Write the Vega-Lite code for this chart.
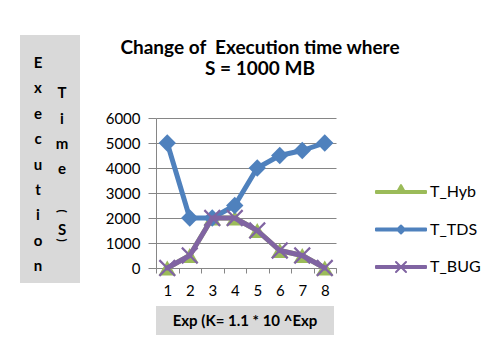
{
  "$schema": "https://vega.github.io/schema/vega-lite/v6.json",
  "padding": {"left": 20, "top": 35, "right": 0, "bottom": 0},
  "background": "white",
  "config": {"font": "Lato", "view": {"stroke": null}},
  "columns": 2,
  "align": "none",
  "bounds": "full",
  "spacing": 25,
  "concat": [
    {
      "width": 60,
      "height": 248,
      "view": {"fill": "#d9d9d9", "stroke": null},
      "data": {"values": [
        {"ch": "E", "col": 1, "row": 0},
        {"ch": "x", "col": 1, "row": 1},
        {"ch": "e", "col": 1, "row": 2},
        {"ch": "c", "col": 1, "row": 3},
        {"ch": "u", "col": 1, "row": 4},
        {"ch": "t", "col": 1, "row": 5},
        {"ch": "i", "col": 1, "row": 6},
        {"ch": "o", "col": 1, "row": 7},
        {"ch": "n", "col": 1, "row": 8},
        {"ch": "T", "col": 2, "row": 1.18},
        {"ch": "i", "col": 2, "row": 2.2},
        {"ch": "m", "col": 2, "row": 3.19},
        {"ch": "e", "col": 2, "row": 4.17},
        {"ch": "(", "col": 2, "row": 5.83},
        {"ch": "S", "col": 2, "row": 6.57},
        {"ch": ")", "col": 2, "row": 6.97}
      ]},
      "encoding": {
        "x": {"field": "col", "type": "quantitative", "scale": {"domain": [0.25, 2.75], "nice": false, "zero": false}, "axis": null},
        "y": {"field": "row", "type": "quantitative", "scale": {"domain": [-1.1, 8.66], "nice": false, "zero": false, "reverse": true}, "axis": null},
        "text": {"field": "ch", "type": "nominal"}
      },
      "layer": [
        {
          "transform": [{"filter": "datum.ch != '(' && datum.ch != ')'"}],
          "mark": {"type": "text", "font": "Lato", "fontWeight": "bold", "fontSize": 15, "align": "center", "baseline": "middle", "color": "#000000"}
        },
        {
          "transform": [{"filter": "datum.ch == '(' || datum.ch == ')'"}],
          "mark": {"type": "text", "font": "Lato", "fontWeight": "bold", "fontSize": 12, "align": "center", "baseline": "middle", "angle": 90, "color": "#000000"}
        }
      ]
    },
    {
      "bounds": "flush",
      "spacing": 38,
      "vconcat": [
        {
          "width": 180,
          "height": 45,
          "data": {"values": [{"title": "Change of\u00a0 Execution time where\nS = 1000 MB"}]},
          "mark": {"type": "text", "font": "Lato", "fontWeight": "bold", "fontSize": 19, "lineHeight": 21, "lineBreak": "\n", "align": "center", "baseline": "middle", "dx": 14, "dy": -10, "color": "#000000"},
          "encoding": {"text": {"field": "title", "type": "nominal"}}
        },
        {
          "width": 180,
          "height": 150,
          "data": {"values": [
            {"exp": 1, "series": "T_Hyb", "time": 0},
            {"exp": 2, "series": "T_Hyb", "time": 500},
            {"exp": 3, "series": "T_Hyb", "time": 2000},
            {"exp": 4, "series": "T_Hyb", "time": 2000},
            {"exp": 5, "series": "T_Hyb", "time": 1500},
            {"exp": 6, "series": "T_Hyb", "time": 700},
            {"exp": 7, "series": "T_Hyb", "time": 500},
            {"exp": 8, "series": "T_Hyb", "time": 0},
            {"exp": 1, "series": "T_TDS", "time": 5000},
            {"exp": 2, "series": "T_TDS", "time": 2000},
            {"exp": 3, "series": "T_TDS", "time": 2000},
            {"exp": 4, "series": "T_TDS", "time": 2500},
            {"exp": 5, "series": "T_TDS", "time": 4000},
            {"exp": 6, "series": "T_TDS", "time": 4500},
            {"exp": 7, "series": "T_TDS", "time": 4700},
            {"exp": 8, "series": "T_TDS", "time": 5000},
            {"exp": 1, "series": "T_BUG", "time": 0},
            {"exp": 2, "series": "T_BUG", "time": 500},
            {"exp": 3, "series": "T_BUG", "time": 2000},
            {"exp": 4, "series": "T_BUG", "time": 2000},
            {"exp": 5, "series": "T_BUG", "time": 1500},
            {"exp": 6, "series": "T_BUG", "time": 700},
            {"exp": 7, "series": "T_BUG", "time": 500},
            {"exp": 8, "series": "T_BUG", "time": 0}
          ]},
          "encoding": {
            "x": {
              "field": "exp", "type": "ordinal", "bandPosition": 0.5,
              "scale": {"type": "band", "paddingInner": 0, "paddingOuter": 0},
              "axis": {"title": null, "labelAngle": 0, "tickBand": "extent", "tickSize": 5, "tickColor": "#868686", "domainColor": "#868686", "labelFont": "Lato", "labelFontSize": 15, "labelColor": "#000000", "labelPadding": 10, "grid": false}
            },
            "y": {
              "field": "time", "type": "quantitative",
              "scale": {"domain": [0, 6000], "nice": false},
              "axis": {"title": null, "values": [0, 1000, 2000, 3000, 4000, 5000, 6000], "format": "d", "domainColor": "#868686", "tickSize": 8, "tickColor": "#868686", "grid": true, "gridColor": "#868686", "labelFont": "Lato", "labelFontSize": 15, "labelColor": "#000000", "labelPadding": 8}
            },
            "color": {
              "field": "series", "type": "nominal",
              "scale": {"domain": ["T_Hyb", "T_TDS", "T_BUG"], "range": ["#9BBB59", "#4F81BD", "#8064A2"]},
              "legend": {
                "orient": "none", "legendX": 355, "legendY": 149, "title": null, "padding": 0,
                "labelFont": "Lato", "labelFontSize": 16, "labelColor": "#000000",
                "symbolSize": 100, "symbolStrokeWidth": 2, "symbolOffset": 18, "labelOffset": 21, "rowPadding": 21.5,
                "encoding": {
                  "symbols": {
                    "shape": {"value": {"expr": "datum.value === 'T_TDS' ? 'M-5,-0.2L5,-0.2L5,0.2L-5,0.2ZM0,-0.8L0.8,0L0,0.8L-0.8,0Z' : datum.value === 'T_Hyb' ? 'M-5,-0.2L5,-0.2L5,0.2L-5,0.2ZM0,-1.4L0.9,0.2L-0.9,0.2Z' : 'M-5,-0.2L5,-0.2L5,0.2L-5,0.2ZM-1,-1L1,1M-1,1L1,-1'"}},
                    "strokeWidth": {"value": 2},
                    "strokeCap": {"value": "round"},
                    "strokeJoin": {"value": "round"},
                    "size": {"value": 100},
                    "opacity": {"value": 1},
                    "fillOpacity": {"value": 1}
                  }
                }
              }
            }
          },
          "layer": [
            {"transform": [{"filter": "datum.series == 'T_Hyb'"}], "mark": {"type": "line", "strokeWidth": 5, "strokeCap": "round", "strokeJoin": "round"}},
            {"transform": [{"filter": "datum.series == 'T_Hyb'"}], "mark": {"type": "point", "filled": true, "size": 300, "opacity": 1, "shape": "triangle-up"}},
            {"transform": [{"filter": "datum.series == 'T_TDS'"}], "mark": {"type": "line", "strokeWidth": 5, "strokeCap": "round", "strokeJoin": "round"}},
            {"transform": [{"filter": "datum.series == 'T_TDS'"}], "mark": {"type": "point", "filled": true, "size": 300, "opacity": 1, "shape": "diamond"}},
            {"transform": [{"filter": "datum.series == 'T_BUG'"}], "mark": {"type": "line", "strokeWidth": 5, "strokeCap": "round", "strokeJoin": "round"}},
            {"transform": [{"filter": "datum.series == 'T_BUG'"}], "mark": {"type": "point", "filled": true, "size": 300, "opacity": 1, "shape": "M-0.82,-1L0,-0.18L0.82,-1L1,-0.82L0.18,0L1,0.82L0.82,1L0,0.18L-0.82,1L-1,0.82L-0.18,0L-1,-0.82Z"}}
          ]
        },
        {
          "width": 178,
          "height": 29,
          "view": {"fill": "#d9d9d9", "stroke": null},
          "data": {"values": [{"label": "Exp (K= 1.1 * 10 ^Exp"}]},
          "mark": {"type": "text", "font": "Lato", "fontWeight": "bold", "fontSize": 15, "align": "center", "baseline": "middle", "color": "#000000"},
          "encoding": {"text": {"field": "label", "type": "nominal"}}
        }
      ]
    }
  ]
}
